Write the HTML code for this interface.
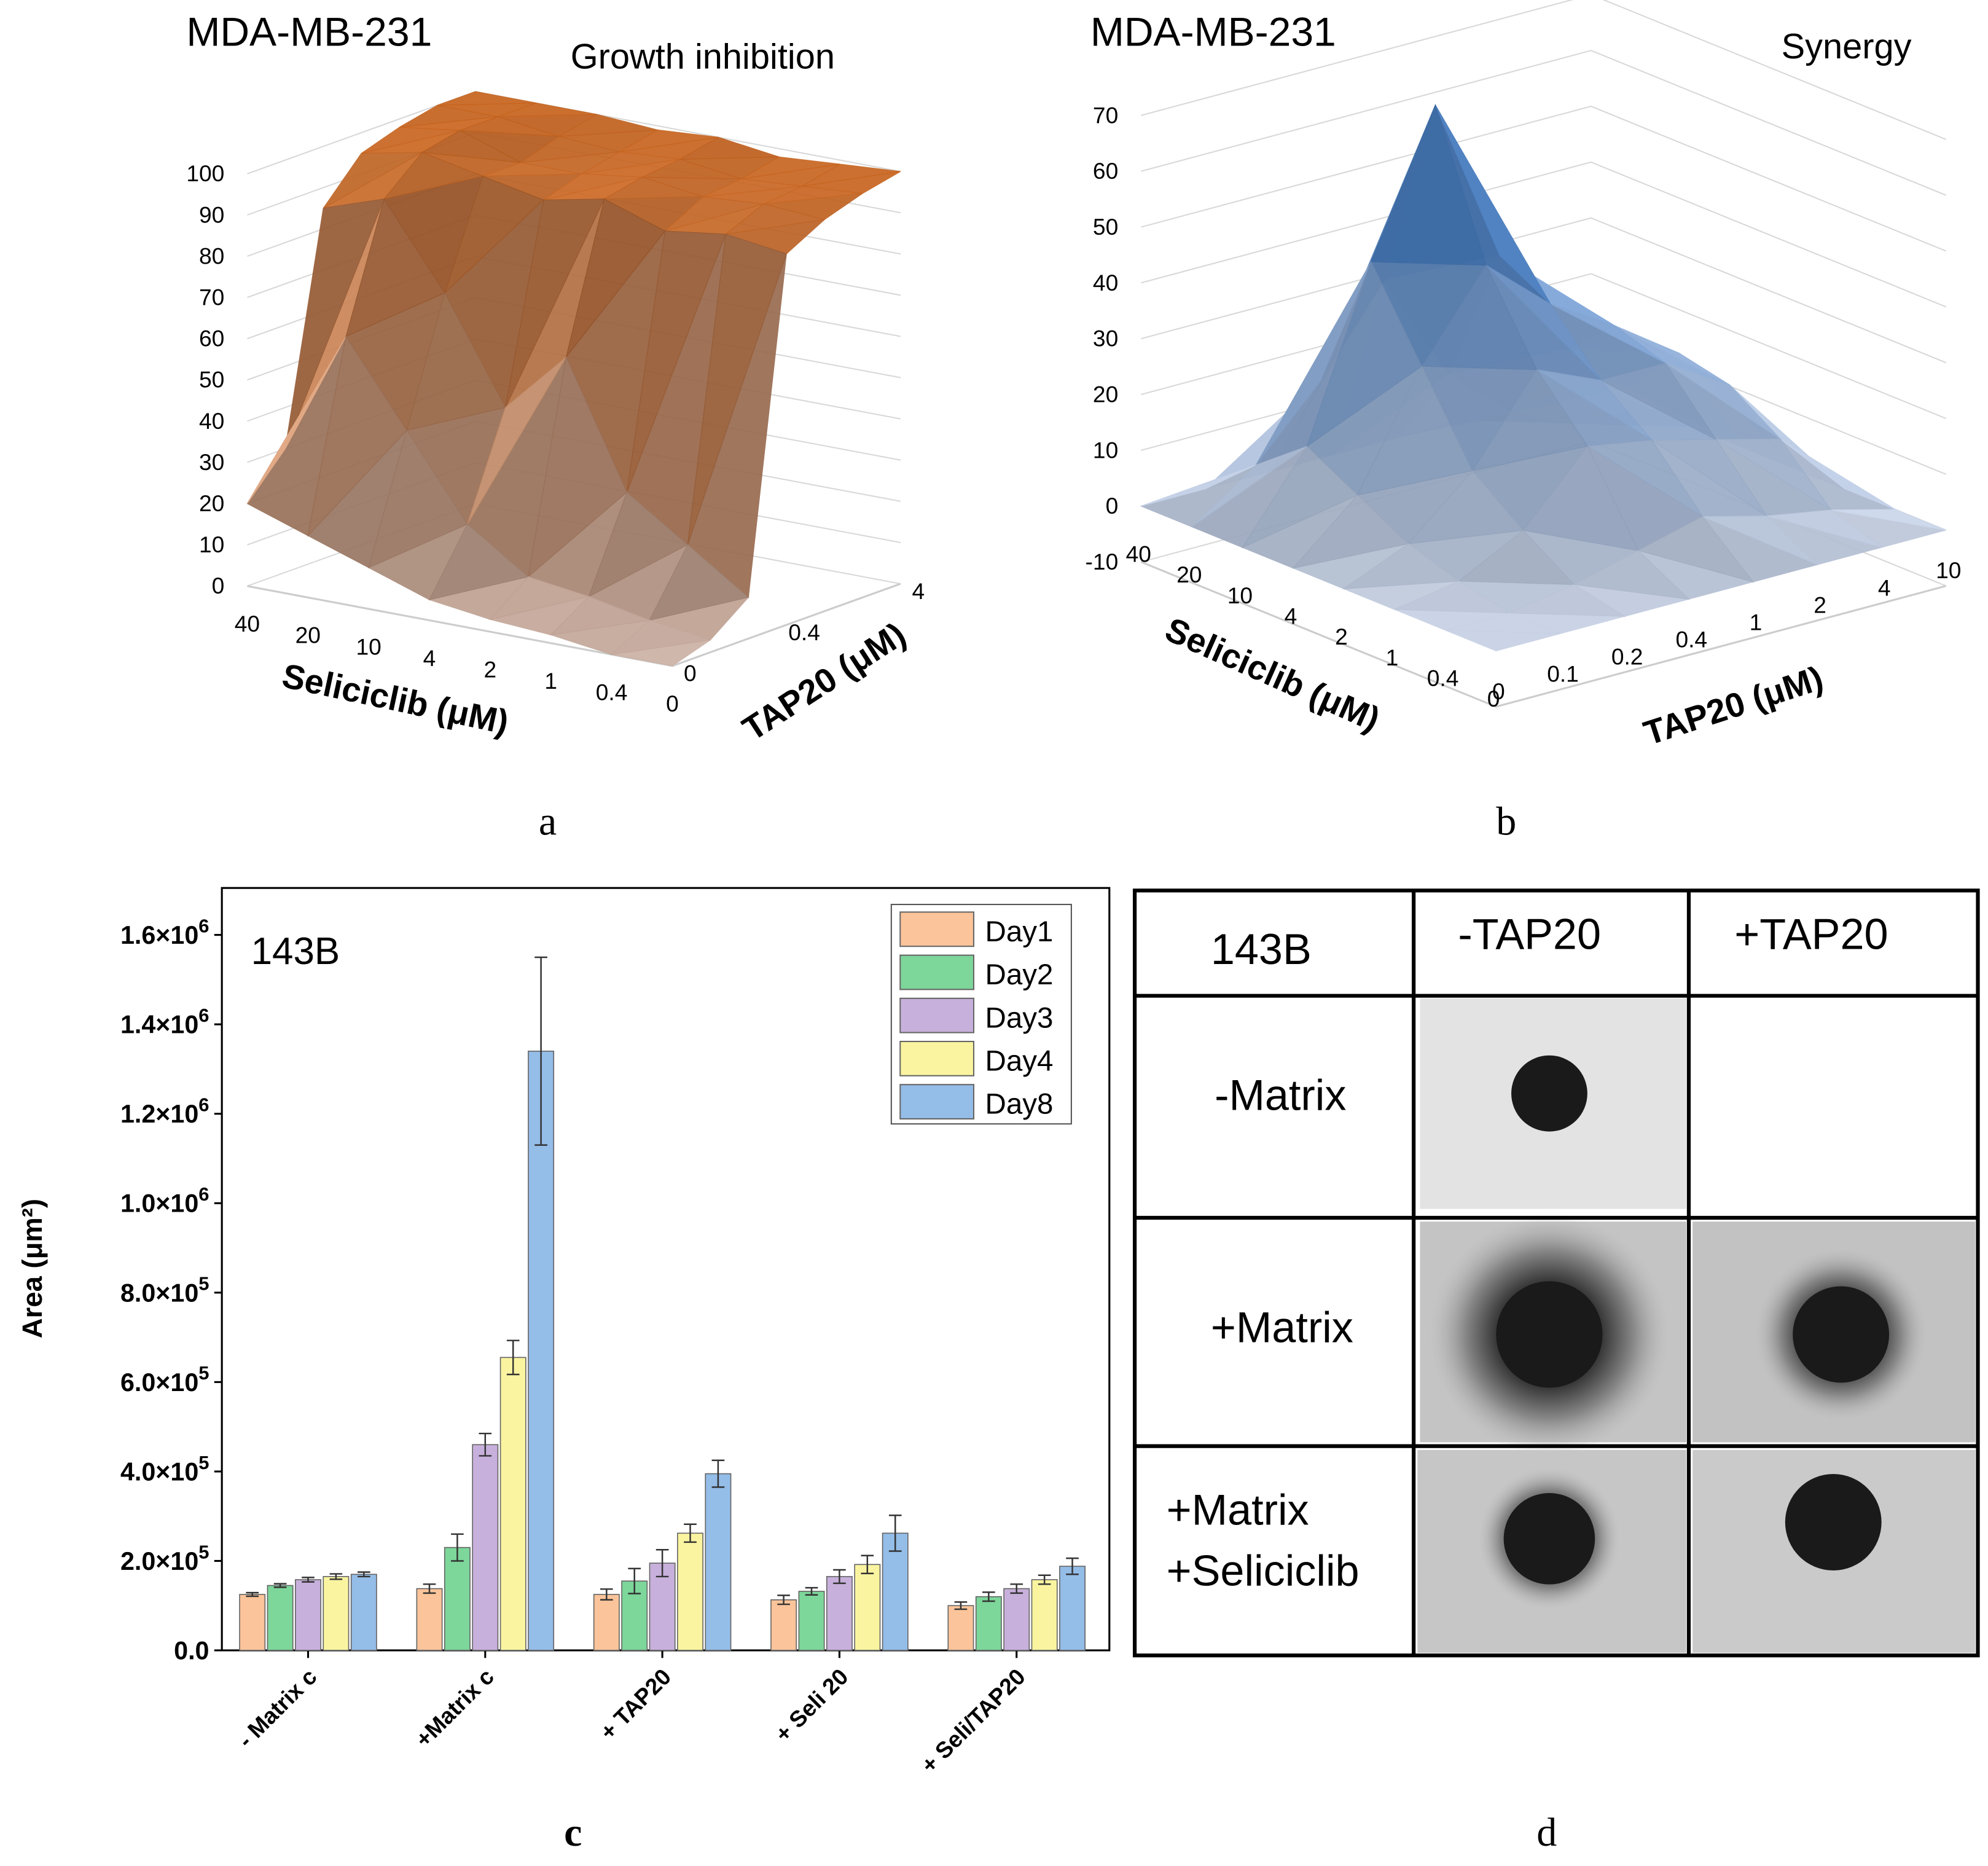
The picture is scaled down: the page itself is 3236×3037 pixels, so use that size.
<!DOCTYPE html>
<html><head><meta charset="utf-8"><style>
html,body{margin:0;padding:0;background:#fff;}
svg{display:block;font-family:"Liberation Sans",sans-serif;}
</style></head><body>
<svg id="s" width="3236" height="3037" viewBox="0 0 1568 1471" preserveAspectRatio="none" xmlns="http://www.w3.org/2000/svg">
<defs>
<radialGradient id="halo"><stop offset="0.45" stop-color="#3a3a3a"/><stop offset="0.7" stop-color="#888"/><stop offset="1" stop-color="#bbb" stop-opacity="0"/></radialGradient>
</defs>
<g id="pa"></g>
<g id="pb"></g>
<g id="pc"></g>
<g id="pd"></g>
<text x="147" y="36" font-size="32">MDA-MB-231</text>
<text x="450" y="54" font-size="28">Growth inhibition</text>
<text x="860" y="36" font-size="32">MDA-MB-231</text>
<text x="1405" y="46" font-size="28">Synergy</text>
<text x="432" y="658" font-size="32" font-family="Liberation Serif,serif" text-anchor="middle">a</text>
<text x="1188" y="658" font-size="32" font-family="Liberation Serif,serif" text-anchor="middle">b</text>
<text x="452" y="1455" font-size="32" font-family="Liberation Serif,serif" font-weight="bold" text-anchor="middle">c</text>
<text x="1220" y="1455" font-size="32" font-family="Liberation Serif,serif" text-anchor="middle">d</text>
</svg>
<script>
const NS="http://www.w3.org/2000/svg";
function mk(p,tag,at,txt){const e=document.createElementNS(NS,tag);for(const k in at)e.setAttribute(k,at[k]);if(txt!==undefined)e.textContent=txt;p.appendChild(e);return e;}

// ---------- Panel a data ----------
const aSeli=["40","20","10","4","2","1","0.4","0"];
const aTap=["0","0.1","0.2","0.4","1","2","4"];
const aTapLabels=["0","","","0.4","","","4"];
const aZticks=[0,10,20,30,40,50,60,70,80,90,100];
const aZ=[
[20,15,10,5,3,2,0,0],
[30,60,40,20,10,8,5,3],
[85,90,70,45,60,30,20,10],
[95,98,95,92,95,90,92,90],
[98,100,95,95,97,95,96,95],
[100,100,98,97,98,96,97,98],
[100,100,100,99,100,98,99,100]];
// ---------- Panel b data ----------
const bSeli=["40","20","10","4","2","1","0.4","0"];
const bTap=["0","0.1","0.2","0.4","1","2","4","10"];
const bZticks=[-10,0,10,20,30,40,50,60,70];
const bZ=[
[0,0,0,0,0,0,0,0],
[0,8,15,10,5,2,0,0],
[0,20,45,30,15,8,2,0],
[0,35,70,45,30,20,5,0],
[0,15,40,35,25,18,8,0],
[0,5,20,28,25,15,5,0],
[0,0,10,20,18,12,3,0],
[0,0,0,0,0,0,0,0]];

function surface(g,cfg){
 const P=(i,j,z)=>[cfg.o[0]+i*cfg.u[0]+j*cfg.v[0], cfg.o[1]+i*cfg.u[1]+j*cfg.v[1]-(z-cfg.zmin)*cfg.zs];
 const ni=cfg.Z[0].length-1,nj=cfg.Z.length-1;
 cfg.zt.forEach(t=>{
  const a=P(0,0,t),b=P(0,nj,t),c=P(ni,nj,t);
  const l=mk(g,'polyline',{points:`${a} ${b} ${c}`,fill:'none',stroke:'#d8d8d8','stroke-width':1});
  
  const tx=mk(g,'text',{x:a[0]-cfg.lx,y:a[1]+6,'font-size':18,'text-anchor':'end'},String(t));
  
 });
 const f=[P(0,0,cfg.zmin),P(ni,0,cfg.zmin),P(ni,nj,cfg.zmin)];
 mk(g,'polyline',{points:f.join(' '),fill:'none',stroke:'#ccc','stroke-width':1.5});
 cfg.sl.forEach((s,i)=>{const p=P(i,0,cfg.zmin);const t=mk(g,'text',{x:p[0]+cfg.sOff[0],y:p[1]+cfg.sOff[1],'font-size':18,'text-anchor':'middle'},s);
  });
 cfg.tl.forEach((s,j)=>{if(!s)return;const p=P(ni,j,cfg.zmin);const t=mk(g,'text',{x:p[0]+cfg.tOff[0],y:p[1]+cfg.tOff[1],'font-size':18,'text-anchor':'middle'},s);
  });
 const qs=[];
 for(let j=0;j<nj;j++)for(let i=0;i<ni;i++){
  const z=[cfg.Z[j][i],cfg.Z[j][i+1],cfg.Z[j+1][i+1],cfg.Z[j+1][i]];
  const base=P(i+.5,j+.5,cfg.zmin);
  qs.push({i,j,z,d:base[1]-base[0]*cfg.dx});
 }
 qs.sort((a,b)=>a.d-b.d);
 const L=cfg.light;const ln=Math.hypot(...L);
 qs.forEach(q=>{
  const {i,j,z}=q;
  const tris=[[[i,j,z[0]],[i+1,j,z[1]],[i+1,j+1,z[2]]],[[i,j,z[0]],[i+1,j+1,z[2]],[i,j+1,z[3]]]];
  tris.forEach(t=>{
   const a=t.map(p=>[p[0],p[1],p[2]/cfg.zn]);
   const e1=[a[1][0]-a[0][0],a[1][1]-a[0][1],a[1][2]-a[0][2]],e2=[a[2][0]-a[0][0],a[2][1]-a[0][1],a[2][2]-a[0][2]];
   let n=[e1[1]*e2[2]-e1[2]*e2[1],e1[2]*e2[0]-e1[0]*e2[2],e1[0]*e2[1]-e1[1]*e2[0]];
   if(n[2]<0)n=n.map(x=>-x);
   const nl=Math.hypot(...n);
   const dot=Math.max(0,(n[0]*L[0]+n[1]*L[1]+n[2]*L[2])/(nl*ln));
   const zm=(t[0][2]+t[1][2]+t[2][2])/3;
   const f=Math.min(1,Math.max(0,(zm-cfg.cmin)/(cfg.cmax-cfg.cmin)));
   const c=cfg.lo.map((v,k)=>v+(cfg.hi[k]-v)*f);
   const sh=cfg.amb+(1-cfg.amb)*dot;
   const col=`rgb(${c.map((v,k)=>Math.round(Math.min(255,v*sh+(1-sh)*cfg.dark[k]*0.3))).join(',')})`;
   const pts=t.map(p=>P(p[0],p[1],p[2]).map(v=>v.toFixed(1)).join(',')).join(' ');
   const pg=mk(g,'polygon',{points:pts,fill:col,stroke:col,'stroke-width':0.6,opacity:0.92});
   
  });
 });
}
surface(document.getElementById('pa'),{Z:aZ,o:[195,462],u:[47.9,9],v:[30,-10.8],zs:3.25,zmin:0,zn:25,zt:aZticks,lx:18,
 sl:aSeli,tl:aTapLabels,sOff:[0,36],tOff:[14,12],dx:0.1,light:[-0.7,0.3,0.5],amb:0.55,
 lo:[252,225,212],hi:[240,120,35],cmin:0,cmax:100,dark:[120,50,20]});
surface(document.getElementById('pb'),{Z:bZ,o:[900,443],u:[40,16.3],v:[50.7,-13.6],zs:4.4,zmin:-10,zn:10,zt:bZticks,lx:18,
 sl:bSeli,tl:bTap,sOff:[-2,0],tOff:[2,-6],dx:0.1,light:[-0.5,0.6,0.7],amb:0.75,
 lo:[215,226,246],hi:[30,105,195],cmin:0,cmax:70,dark:[60,70,100]});
(function(){
 const a=document.getElementById('pa'),b=document.getElementById('pb');
 let t=mk(a,'text',{x:310,y:560,'font-size':27,'font-weight':'bold','text-anchor':'middle',transform:'rotate(12 310 560)'},'Seliciclib (μM)');
 
 t=mk(a,'text',{x:655,y:545,'font-size':27,'font-weight':'bold','text-anchor':'middle',transform:'rotate(-33 655 545)'},'TAP20 (μM)');
 
 t=mk(b,'text',{x:1000,y:540,'font-size':27,'font-weight':'bold','text-anchor':'middle',transform:'rotate(24 1000 540)'},'Seliciclib (μM)');
 
 t=mk(b,'text',{x:1370,y:565,'font-size':27,'font-weight':'bold','text-anchor':'middle',transform:'rotate(-18 1370 565)'},'TAP20 (μM)');
 
})();

// ---------- Panel c data ----------
const cGroups=["- Matrix c","+Matrix c","+ TAP20","+ Seli 20","+ Seli/TAP20"];
const cDays=["Day1","Day2","Day3","Day4","Day8"];
const cColors=["#fcc49a","#7dd69a","#c8b0dc","#faf4a0","#94bde8"];
const cVals=[ // x1e5
[1.25,1.45,1.58,1.65,1.70],
[1.38,2.30,4.60,6.55,13.4],
[1.25,1.55,1.95,2.62,3.95],
[1.13,1.32,1.65,1.92,2.62],
[1.00,1.20,1.38,1.58,1.88]];
const cErr=[
[0.04,0.04,0.05,0.06,0.05],
[0.10,0.30,0.25,0.38,2.10],
[0.12,0.28,0.30,0.20,0.30],
[0.10,0.08,0.15,0.20,0.40],
[0.08,0.10,0.10,0.10,0.18]];
const cTickMant=["0.0","2.0×10","4.0×10","6.0×10","8.0×10","1.0×10","1.2×10","1.4×10","1.6×10"];
const cTickExp=["","5","5","5","5","6","6","6","6"];
(function(){
 const g=document.getElementById('pc');
 const X0=175,X1=875,Y0=1301,Ytop=700;
 const y=v=>Y0-v*(70.5/2);
 const gx=i=>243+i*139.7;
 let r=mk(g,'rect',{x:X0,y:Ytop,width:X1-X0,height:Y0-Ytop,fill:'none',stroke:'#000','stroke-width':1.5});
 
 cTickMant.forEach((s,k)=>{const yy=y(k*2);
  mk(g,'line',{x1:X0-6,x2:X0,y1:yy,y2:yy,stroke:'#000','stroke-width':1.5});
  const t=mk(g,'text',{x:X0-10,y:yy+7,'font-size':20,'font-weight':'bold','text-anchor':'end'});
  
  const a=document.createElementNS(NS,'tspan');a.textContent=s;t.appendChild(a);
  if(cTickExp[k]){const b=document.createElementNS(NS,'tspan');b.setAttribute('dy','-9');b.setAttribute('font-size','15');b.textContent=cTickExp[k];t.appendChild(b);}
 });
 let t=mk(g,'text',{x:33,y:1000,'font-size':22,'font-weight':'bold','text-anchor':'middle',transform:'rotate(-90 33 1000)'},'Area (μm²)');
 
 t=mk(g,'text',{x:198,y:760,'font-size':30},'143B');
 
 cGroups.forEach((gn,i)=>{
  mk(g,'line',{x1:gx(i),x2:gx(i),y1:Y0,y2:Y0+6,stroke:'#000','stroke-width':1.5});
  const tl=mk(g,'text',{x:gx(i)+8,y:Y0+22,'font-size':18,'font-weight':'bold','text-anchor':'end',transform:`rotate(-45 ${gx(i)+8} ${Y0+22})`},gn);
  
  cVals[i].forEach((v,d)=>{
   const bx=gx(i)+(d-2)*22-10;
   const b=mk(g,'rect',{x:bx,y:y(v),width:20,height:Y0-y(v),fill:cColors[d],stroke:'#666','stroke-width':0.8});
   
   const e=cErr[i][d],cx=bx+10;
   const eb=mk(g,'path',{d:`M${cx} ${y(v+e)}V${y(v-e)}M${cx-5} ${y(v+e)}H${cx+5}M${cx-5} ${y(v-e)}H${cx+5}`,stroke:'#333','stroke-width':1.2,fill:'none'});
   
  });
 });
 const lg=mk(g,'g',{});
 
 mk(lg,'rect',{x:703,y:713,width:142,height:173,fill:'#fff',stroke:'#555','stroke-width':1});
 cDays.forEach((d,k)=>{
  const e=mk(lg,'rect',{x:710,y:719+k*34,width:58,height:27,fill:cColors[k],stroke:'#666'});
  
  const t=mk(lg,'text',{x:777,y:742+k*34,'font-size':23},d);
  
 });
})();

// ---------- Panel d ----------
(function(){
 const g=document.getElementById('pd');
 const cx=[895,1115,1332,1560],ry=[702,785,960,1140,1305];
 mk(g,'rect',{x:895,y:702,width:665,height:603,fill:'#fff',stroke:'#000','stroke-width':3});
 const img=(x,y,w,h,bg,c,r,hr,n)=>{
  const gg=mk(g,'g',{});
  mk(gg,'rect',{x,y,width:w,height:h,fill:bg});
  if(hr)mk(gg,'circle',{cx:c[0],cy:c[1],r:hr,fill:'url(#halo)'});
  mk(gg,'circle',{cx:c[0],cy:c[1],r,fill:'#1a1a1a'});
 };
 img(1120,787,210,166,'#e3e3e3',[1222,862],30,0,'spheroid-image-minus-matrix');
 img(1120,963,210,174,'#c4c4c4',[1222,1052],42,95,'spheroid-image-matrix');
 img(1335,963,223,174,'#c2c2c2',[1452,1052],38,68,'spheroid-image-matrix-tap20');
 img(1118,1143,212,160,'#c6c6c6',[1222,1213],36,56,'spheroid-image-matrix-seli');
 img(1335,1143,223,160,'#cacaca',[1446,1200],38,0,'spheroid-image-matrix-seli-tap20');
 cx.slice(1,3).forEach(x=>mk(g,'line',{x1:x,x2:x,y1:702,y2:1305,stroke:'#000','stroke-width':3}));
 ry.slice(1,4).forEach(yv=>mk(g,'line',{x1:895,x2:1560,y1:yv,y2:yv,stroke:'#000','stroke-width':3}));
 const txt=(x,y,s,n)=>{const t=mk(g,'text',{x,y,'font-size':34},s);};
 txt(955,760,'143B','table-cell-line');txt(1150,748,'-TAP20','col-header-minus-tap20');txt(1368,748,'+TAP20','col-header-plus-tap20');
 txt(958,875,'-Matrix','row-header-minus-matrix');txt(955,1058,'+Matrix','row-header-plus-matrix');
 txt(920,1202,'+Matrix','row-header-matrix-seliciclib');txt(920,1250,'+Seliciclib','row-header-matrix-seliciclib-2');
})();
</script>
</body></html>
